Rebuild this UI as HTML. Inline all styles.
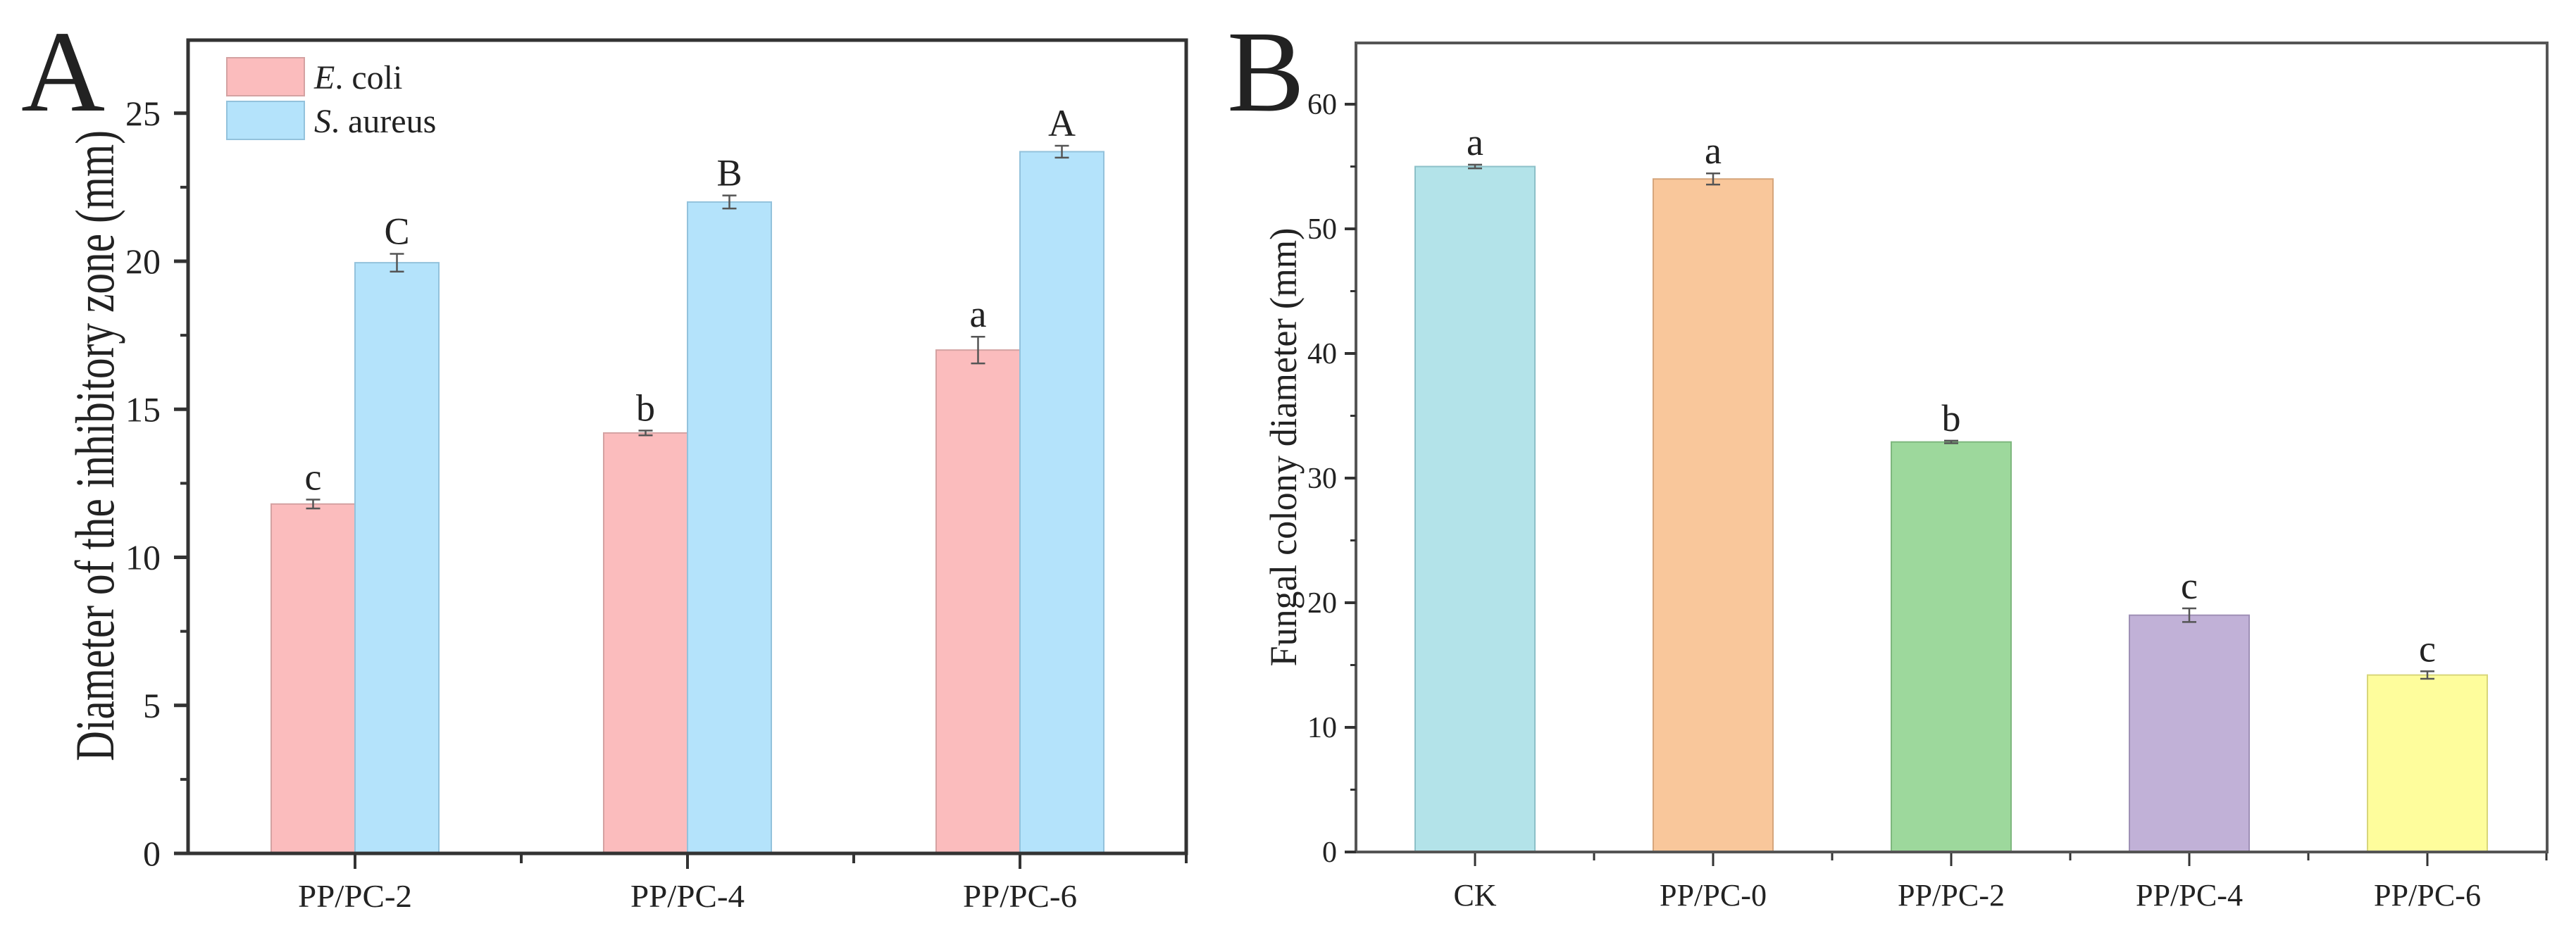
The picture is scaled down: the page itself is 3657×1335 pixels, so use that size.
<!DOCTYPE html>
<html><head><meta charset="utf-8"><style>
html,body{margin:0;padding:0;background:#fff;}
svg text{font-family:"Liberation Serif",serif;fill:#222;}
</style></head><body>
<svg id="fig" width="3657" height="1330" viewBox="0 0 3657 1330" xmlns="http://www.w3.org/2000/svg">
<rect width="3657" height="1330" fill="#fff"/>
<text x="30" y="157" font-size="165">A</text>
<text x="1742" y="157" font-size="165">B</text>
<g id="pa"></g>
<g id="pb"></g>
</svg>
<script>
const aCategories = ["PP/PC-2","PP/PC-4","PP/PC-6"];
const aEcoli = [11.8, 14.2, 17.0];
const aEcoliErr = [0.15, 0.08, 0.45];
const aAureus = [19.95, 22.0, 23.7];
const aAureusErr = [0.3, 0.22, 0.2];
const aEcoliLetters = ["c","b","a"];
const aAureusLetters = ["C","B","A"];
const aTicks = [0,5,10,15,20,25];

const bCategories = ["CK","PP/PC-0","PP/PC-2","PP/PC-4","PP/PC-6"];
const bValues = [55.0, 54.0, 32.9, 19.0, 14.2];
const bErr = [0.15, 0.45, 0.1, 0.55, 0.3];
const bLetters = ["a","a","b","c","c"];
const bTicks = [0,10,20,30,40,50,60];

const NS = "http://www.w3.org/2000/svg";
function mk(parent, tag, attrs, txt){
  const e = document.createElementNS(NS, tag);
  for (const k in attrs) e.setAttribute(k, attrs[k]);
  if (txt !== undefined) e.textContent = txt;
  parent.appendChild(e);
  return e;
}

// ---------- Panel A ----------
(function(){
  const g = document.getElementById('pa');
  const L=267, R=1684, T=57, B=1212;
  const yA = v => B - 42.05*v;
  const xA = i => 504 + 472*i;
  const bw = 119;
  aCategories.forEach((c,i)=>{
    const series = [[aEcoli,aEcoliErr,aEcoliLetters,'#fbbcbd','#d4a2a2',-1],[aAureus,aAureusErr,aAureusLetters,'#b4e3fb','#93c2dc',0]];
    series.forEach((s,si)=>{
      const x0 = xA(i) + s[5]*bw;
      const v = s[0][i], er = s[1][i];
      const r = mk(g,'rect',{x:x0,y:yA(v),width:bw,height:B-yA(v),fill:s[3],stroke:s[4],'stroke-width':2});
      
      
      const cx = x0+bw/2;
      const eb = mk(g,'path',{d:`M${cx},${yA(v+er)}V${yA(v-er)}M${cx-10},${yA(v+er)}H${cx+10}M${cx-10},${yA(v-er)}H${cx+10}`,stroke:'#555','stroke-width':2.5,fill:'none'});
      
      
      const t = mk(g,'text',{x:cx,y:yA(v+er)-14,'font-size':54,'text-anchor':'middle'}, s[2][i]);
      
      
    });
    const xl = mk(g,'text',{x:xA(i),y:1288,'font-size':46,'text-anchor':'middle',textLength:162,lengthAdjust:'spacingAndGlyphs'}, c);
    
    
  });
  const fr = mk(g,'rect',{x:L,y:T,width:R-L,height:B-T,fill:'none',stroke:'#333','stroke-width':5});
  
  
  aTicks.forEach(v=>{
    mk(g,'line',{x1:L-20,x2:L,y1:yA(v),y2:yA(v),stroke:'#333','stroke-width':5});
    if (v<25) mk(g,'line',{x1:L-11,x2:L,y1:yA(v+2.5),y2:yA(v+2.5),stroke:'#333','stroke-width':4});
    const t = mk(g,'text',{x:228,y:yA(v)+17,'font-size':50,'text-anchor':'end'}, String(v));
    
    
  });
  for (let i=0;i<aCategories.length;i++){
    mk(g,'line',{x1:xA(i),x2:xA(i),y1:B,y2:B+22,stroke:'#333','stroke-width':4});
    mk(g,'line',{x1:xA(i+0.5),x2:xA(i+0.5),y1:B,y2:B+14,stroke:'#333','stroke-width':4});
  }
  const yt = mk(g,'text',{x:0,y:0,'font-size':78,'text-anchor':'middle',transform:'translate(161,633) rotate(-90)',textLength:896,lengthAdjust:'spacingAndGlyphs'}, 'Diameter of the inhibitory zone (mm)');
  
  
  const l1 = mk(g,'rect',{x:322,y:82,width:110,height:54,fill:'#fbbcbd',stroke:'#d4a2a2','stroke-width':2});
  
  
  const l2 = mk(g,'rect',{x:322,y:144,width:110,height:54,fill:'#b4e3fb',stroke:'#93c2dc','stroke-width':2});
  
  
  const t1 = mk(g,'text',{x:446,y:126,'font-size':48});
  t1.innerHTML = '<tspan font-style="italic">E</tspan>. coli';
  
  
  const t2 = mk(g,'text',{x:446,y:188,'font-size':48});
  t2.innerHTML = '<tspan font-style="italic">S</tspan>. aureus';
  
  
})();

// ---------- Panel B ----------
(function(){
  const g = document.getElementById('pb');
  const L=1925, R=3616, T=61, B=1210;
  const yB = v => B - 17.7*v;
  const xB = i => 2094 + 338*i;
  const bw = 170;
  const fills = ['#b3e3e9','#f9c79b','#9dd89c','#c1b1d7','#fefd9c'];
  const strokes = ['#8cc0c8','#d6a67c','#7eb77e','#9f90b6','#d8d67a'];
  bCategories.forEach((c,i)=>{
    const v=bValues[i], er=bErr[i], cx=xB(i);
    const r = mk(g,'rect',{x:cx-bw/2,y:yB(v),width:bw,height:B-yB(v),fill:fills[i],stroke:strokes[i],'stroke-width':2});
    
    
    const eb = mk(g,'path',{d:`M${cx},${yB(v+er)}V${yB(v-er)}M${cx-10},${yB(v+er)}H${cx+10}M${cx-10},${yB(v-er)}H${cx+10}`,stroke:'#555','stroke-width':2.5,fill:'none'});
    
    
    const t = mk(g,'text',{x:cx,y:yB(v+er)-14,'font-size':54,'text-anchor':'middle'}, bLetters[i]);
    
    
    const xl = mk(g,'text',{x:cx,y:1286,'font-size':44,'text-anchor':'middle'}, c);
    if (c.length>2){ xl.setAttribute('textLength',152); xl.setAttribute('lengthAdjust','spacingAndGlyphs'); }
    
    
    mk(g,'line',{x1:cx,x2:cx,y1:B,y2:B+20,stroke:'#333','stroke-width':3});
    mk(g,'line',{x1:cx+169,x2:cx+169,y1:B,y2:B+12,stroke:'#333','stroke-width':3});
  });
  const fr = mk(g,'rect',{x:L,y:T,width:R-L,height:B-T,fill:'none',stroke:'#555','stroke-width':4});
  
  
  bTicks.forEach(v=>{
    mk(g,'line',{x1:L-16,x2:L,y1:yB(v),y2:yB(v),stroke:'#333','stroke-width':4});
    if (v<60) mk(g,'line',{x1:L-8,x2:L,y1:yB(v+5),y2:yB(v+5),stroke:'#333','stroke-width':3});
    const t = mk(g,'text',{x:1898,y:yB(v)+14,'font-size':42,'text-anchor':'end'}, String(v));
    
    
  });
  const yt = mk(g,'text',{x:0,y:0,'font-size':54,'text-anchor':'middle',transform:'translate(1840,635) rotate(-90)',textLength:623,lengthAdjust:'spacingAndGlyphs'}, 'Fungal colony diameter (mm)');
  
  
})();
</script>
</body></html>
